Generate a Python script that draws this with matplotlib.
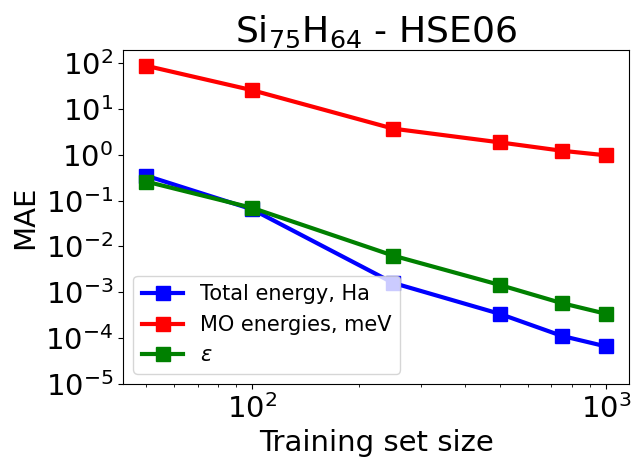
import numpy as np
import matplotlib.pyplot as plt
import matplotlib.ticker as mticker

# Training set sizes and MAE values
train_size = [50, 100, 250, 500, 750, 1000]
mae_total = [0.35, 0.064, 0.0016, 0.00034, 0.000112, 0.000066]
mae_mo = [87, 25.4, 3.7, 1.86, 1.22, 0.97]
mae_eps = [0.26, 0.069, 0.0063, 0.00145, 0.00058, 0.00034]

fig = plt.figure(figsize=(6.36, 4.57), dpi=100)
ax = fig.add_axes([0.1934, 0.1597, 0.7956, 0.7309])

ax.plot(train_size, mae_total, 's-', color='blue', lw=3, ms=10, label='Total energy, Ha')
ax.plot(train_size, mae_mo, 's-', color='red', lw=3, ms=10, label='MO energies, meV')
ax.plot(train_size, mae_eps, 's-', color='green', lw=3, ms=10, label=r'$\varepsilon$')

ax.set_xscale('log')
ax.set_yscale('log')
ax.set_ylim(1e-5, 10**2.283)
ax.set_yticks([1e2, 1e1, 1e0, 1e-1, 1e-2, 1e-3, 1e-4, 1e-5])
ax.yaxis.set_minor_locator(mticker.NullLocator())
ax.xaxis.set_minor_locator(mticker.LogLocator(base=10, subs=np.arange(2, 10)))
ax.xaxis.set_minor_formatter(mticker.NullFormatter())
ax.tick_params(axis='both', labelsize=21)

ax.set_xlabel('Training set size', fontsize=21)
ax.set_ylabel('MAE', fontsize=21)
ax.set_title(r'Si$_{75}$H$_{64}$ - HSE06', fontsize=26)
ax.legend(loc='lower left', fontsize=15)

plt.savefig('out.png')
